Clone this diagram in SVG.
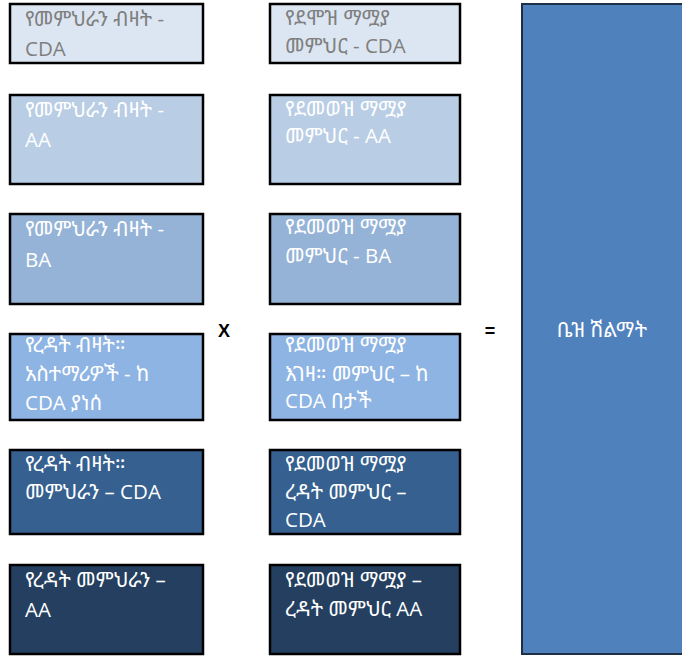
<svg xmlns="http://www.w3.org/2000/svg" width="682" height="656" viewBox="0 0 682 656">
<style>
.b{stroke:#000;stroke-width:2.5}
.t{font-family:"Open Sans","Noto Sans Ethiopic","Noto Sans",sans-serif;font-size:20.5px;fill:#fff}
.g{fill:#7f7f7f}
.op{font-family:"Liberation Sans",Arial,sans-serif;font-size:18px;font-weight:bold;fill:#000;text-anchor:middle}
</style>
<rect width="682" height="656" fill="#fff"/>
<g id="l1"><rect class="b" x="10" y="4" width="193" height="59" fill="#DCE6F2"/><text class="t g" x="25" y="26">የመምህራን ብዛት -</text><text class="t g" x="25" y="56">CDA</text></g>
<g id="r1"><rect class="b" x="270" y="4" width="190" height="59" fill="#DCE6F2"/><text class="t g" x="285" y="25">የደሞዝ ማሟያ</text><text class="t g" x="285" y="53">መምህር - CDA</text></g>
<g id="l2"><rect class="b" x="10" y="95" width="193" height="89" fill="#B9CDE5"/><text class="t" x="25" y="117">የመምህራን ብዛት -</text><text class="t" x="25" y="147">AA</text></g>
<g id="r2"><rect class="b" x="270" y="95" width="190" height="89" fill="#B9CDE5"/><text class="t" x="285" y="116">የደመወዝ ማሟያ</text><text class="t" x="285" y="143">መምህር - AA</text></g>
<g id="l3"><rect class="b" x="10" y="214" width="193" height="90" fill="#95B3D7"/><text class="t" x="25" y="236">የመምህራን ብዛት -</text><text class="t" x="25" y="267">BA</text></g>
<g id="r3"><rect class="b" x="270" y="214" width="190" height="90" fill="#95B3D7"/><text class="t" x="285" y="234">የደመወዝ ማሟያ</text><text class="t" x="285" y="263">መምህር - BA</text></g>
<g id="l4"><rect class="b" x="10" y="334" width="193" height="86" fill="#8EB4E3"/><text class="t" x="25" y="352">የረዳት ብዛት።</text><text class="t" x="25" y="381">አስተማሪዎች - ከ</text><text class="t" x="25" y="410">CDA ያነሰ</text></g>
<g id="r4"><rect class="b" x="270" y="334" width="190" height="86" fill="#8EB4E3"/><text class="t" x="285" y="352">የደመወዝ ማሟያ</text><text class="t" x="285" y="381">እገዛ። መምህር – ከ</text><text class="t" x="285" y="408">CDA በታች</text></g>
<g id="l5"><rect class="b" x="10" y="450" width="193" height="84" fill="#35608F"/><text class="t" x="25" y="471">የረዳት ብዛት።</text><text class="t" x="25" y="499">መምህራን – CDA</text></g>
<g id="r5"><rect class="b" x="270" y="450" width="190" height="84" fill="#35608F"/><text class="t" x="285" y="471">የደመወዝ ማሟያ</text><text class="t" x="285" y="499">ረዳት መምህር –</text><text class="t" x="285" y="527">CDA</text></g>
<g id="l6"><rect class="b" x="10" y="565" width="193" height="89" fill="#243F5F"/><text class="t" x="25" y="587">የረዳት መምህራን –</text><text class="t" x="25" y="617">AA</text></g>
<g id="r6"><rect class="b" x="270" y="565" width="190" height="89" fill="#243F5F"/><text class="t" x="285" y="587">የደመወዝ ማሟያ –</text><text class="t" x="285" y="616">ረዳት መምህር AA</text></g>
<g id="total"><rect x="522" y="4" width="162" height="650" fill="#4F81BD" stroke="#1F2F45" stroke-width="2"/><text class="t" x="602" y="337" text-anchor="middle">ቤዝ ሽልማት</text></g>
<g id="connectors"><text class="op" x="224" y="337">X</text><text class="op" x="490" y="337">=</text></g>
</svg>
